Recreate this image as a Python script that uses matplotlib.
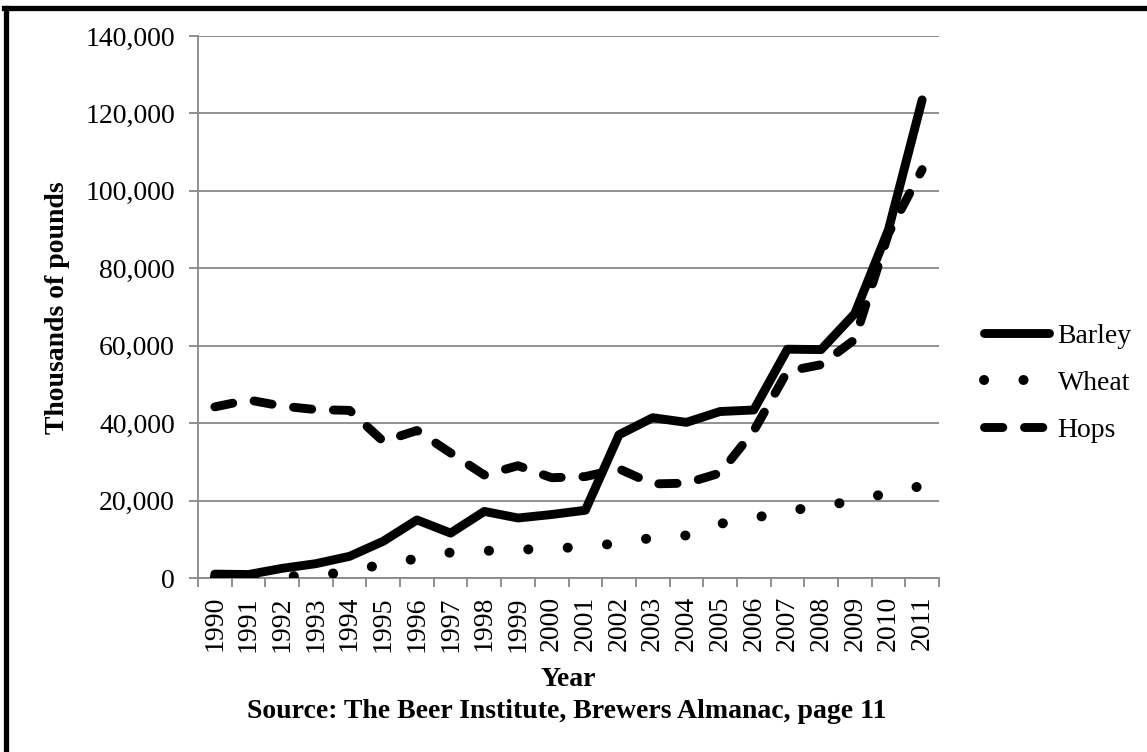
import matplotlib
matplotlib.use("Agg")
import matplotlib.pyplot as plt
from matplotlib.lines import Line2D
from matplotlib.ticker import FuncFormatter, FixedLocator
import numpy as np

years = list(range(1990, 2012))
barley = [1000, 900, 2500, 3700, 5600, 9500, 15000, 11600, 17200, 15500, 16400, 17500,
          37000, 41400, 40200, 43000, 43400, 59100, 59000, 68300, 90000, 123500]
wheat = [200, 300, 400, 600, 1700, 3600, 5000, 6600, 7000, 7300, 7600, 8100,
         9000, 10400, 11000, 14000, 15500, 17300, 18600, 19900, 22000, 23800]
hops = [44200, 46000, 44400, 43500, 43300, 35300, 38100, 32300, 26600, 29000, 25900, 26200,
        28200, 24300, 24500, 27100, 38000, 53400, 55100, 61600, 89000, 105500]

plt.rcParams["font.family"] = ["Liberation Serif", "DejaVu Serif"]
plt.rcParams["lines.scale_dashes"] = False

W, H = 1147, 752
fig = plt.figure(figsize=(W / 100, H / 100), dpi=100)
ax = fig.add_axes([198 / W, 1 - 578 / H, (939 - 198) / W, (578 - 36) / H])

grey = "#888888"
lw = 6.4
fs = 20
x = np.arange(len(years)) + 0.5

ax.plot(x, barley, color="black", lw=lw, solid_capstyle="round",
        solid_joinstyle="round", label="Barley", zorder=3)
ax.plot(x, wheat, color="black", lw=7.2, linestyle=(0, (0.1, 28.3)),
        dash_capstyle="round", label="Wheat", zorder=3)
ax.plot(x, hops, color="black", lw=lw, linestyle=(0, (13.2, 15.6)),
        dash_capstyle="round", dash_joinstyle="round", label="Hops", zorder=3)

ax.set_xlim(0, len(years))
ax.set_ylim(0, 140000)
ax.set_yticks(np.arange(0, 140001, 20000))
ax.yaxis.set_major_formatter(FuncFormatter(lambda v, p: f"{int(v):,}"))
ax.set_xticks(x)
ax.set_xticklabels([str(y) for y in years], rotation=90)
ax.xaxis.set_minor_locator(FixedLocator(np.arange(0, len(years) + 1)))

ax.grid(axis="y", color=grey, lw=1.3, zorder=0)
ax.set_axisbelow(True)
for s in ["top", "right"]:
    ax.spines[s].set_visible(False)
for s in ["left", "bottom"]:
    ax.spines[s].set_color(grey)
    ax.spines[s].set_linewidth(1.3)

ax.tick_params(axis="y", which="major", length=6.5, width=1.3, color=grey,
               labelsize=fs, pad=10)
ax.tick_params(axis="x", which="major", length=0, labelsize=fs, pad=13)
ax.tick_params(axis="x", which="minor", length=6.5, width=1.3, color=grey)

fig.text(58 / W, 1 - 308 / H, "Thousands of pounds", rotation=90, fontsize=fs,
         fontweight="bold", ha="center", va="center")
fig.text(568 / W, 1 - 680 / H, "Year", fontsize=fs, fontweight="bold",
         ha="center", va="center")
fig.text(567 / W, 1 - 712 / H, "Source: The Beer Institute, Brewers Almanac, page 11",
         fontsize=fs, fontweight="bold", ha="center", va="center")

fig.legend(loc="center left", bbox_to_anchor=(984 / W, 1 - 383 / H), frameon=False,
           fontsize=fs, handlelength=2.35, handletextpad=0.3, labelspacing=0.78,
           borderpad=0, borderaxespad=0)

# outer frame (only top and left edges show)
fig.add_artist(Line2D([5.5 / W, 5.5 / W], [0, 1 - 7.5 / H], color="black", lw=3.8,
                      transform=fig.transFigure))
fig.add_artist(Line2D([3.5 / W, 1], [1 - 7.5 / H, 1 - 7.5 / H], color="black", lw=3.8,
                      transform=fig.transFigure))

fig.savefig("out.png", dpi=100)
